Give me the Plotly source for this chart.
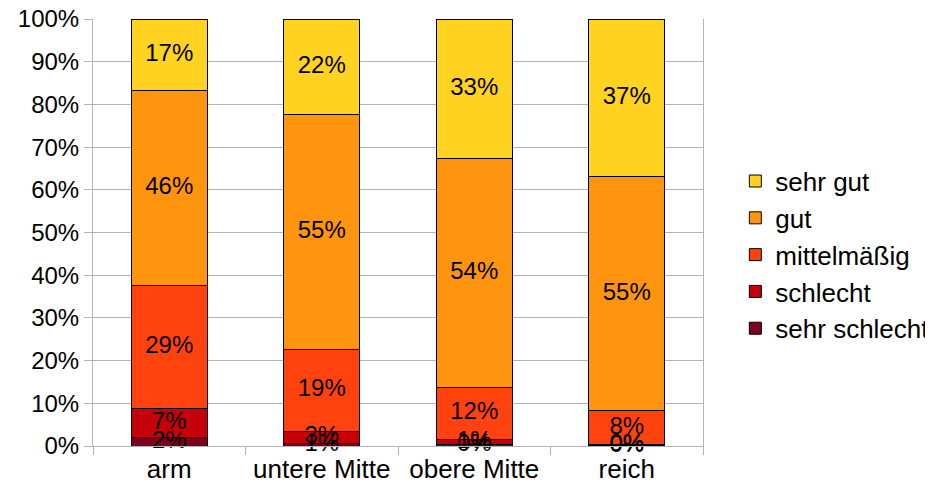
import plotly.graph_objects as go

categories = ["arm", "untere Mitte", "obere Mitte", "reich"]
sehr_schlecht = [2.1, 0.7, 0.4, 0.1]
schlecht = [6.7, 2.8, 1.2, 0.3]
mittelmaessig = [28.9, 19.0, 12.2, 7.8]
gut = [45.5, 55.1, 53.6, 55.0]
sehr_gut = [16.8, 22.4, 32.6, 36.8]

series = [
    ("sehr schlecht", sehr_schlecht, "#7E0021"),
    ("schlecht", schlecht, "#C5000B"),
    ("mittelmäßig", mittelmaessig, "#FF420E"),
    ("gut", gut, "#FF950E"),
    ("sehr gut", sehr_gut, "#FFD320"),
]

FONT = "Liberation Sans, Arial, sans-serif"
fig = go.Figure()
for name, vals, col in series:
    fig.add_trace(go.Bar(
        x=categories, y=vals, name=name, legendgroup=name,
        marker=dict(color=col, line=dict(color="#000000", width=1)),
        hoverinfo="skip",
    ))

# value labels on top of all bars, centred in each segment
base = [0.0] * len(categories)
for name, vals, col in series:
    mids = [b + v / 2 for b, v in zip(base, vals)]
    fig.add_trace(go.Scatter(
        x=categories, y=mids, mode="text",
        text=[f"{v:.0f}%" for v in vals],
        textposition="middle center",
        textfont=dict(color="#000000", size=24, family=FONT),
        showlegend=False, cliponaxis=False, hoverinfo="skip",
    ))
    base = [b + v for b, v in zip(base, vals)]

fig.update_layout(
    barmode="stack", bargap=0.5,
    width=925, height=484,
    margin=dict(l=85, r=230, t=11, b=46, autoexpand=False),
    plot_bgcolor="white", paper_bgcolor="white",
    font=dict(family=FONT, size=24, color="#000000"),
    legend=dict(x=1.053, xanchor="left", y=0.447, yanchor="middle",
                traceorder="reversed", tracegroupgap=8,
                font=dict(size=26, family=FONT)),
    showlegend=True,
)
fig.update_yaxes(range=[0, 100], dtick=10, ticksuffix="%",
                 showgrid=True, gridcolor="#b3b3b3", gridwidth=1,
                 showline=True, linecolor="#b3b3b3", mirror=True,
                 ticks="outside", ticklen=8, tickcolor="#b3b3b3",
                 zeroline=False, tickfont=dict(size=24), automargin=False,
                 ticklabeloverflow="allow")
fig.update_xaxes(showline=True, linecolor="#b3b3b3",
                 ticks="outside", tickson="boundaries", ticklen=8,
                 tickcolor="#b3b3b3", tickfont=dict(size=26), automargin=False,
                 ticklabeloverflow="allow")

fig.write_html("out.html")
